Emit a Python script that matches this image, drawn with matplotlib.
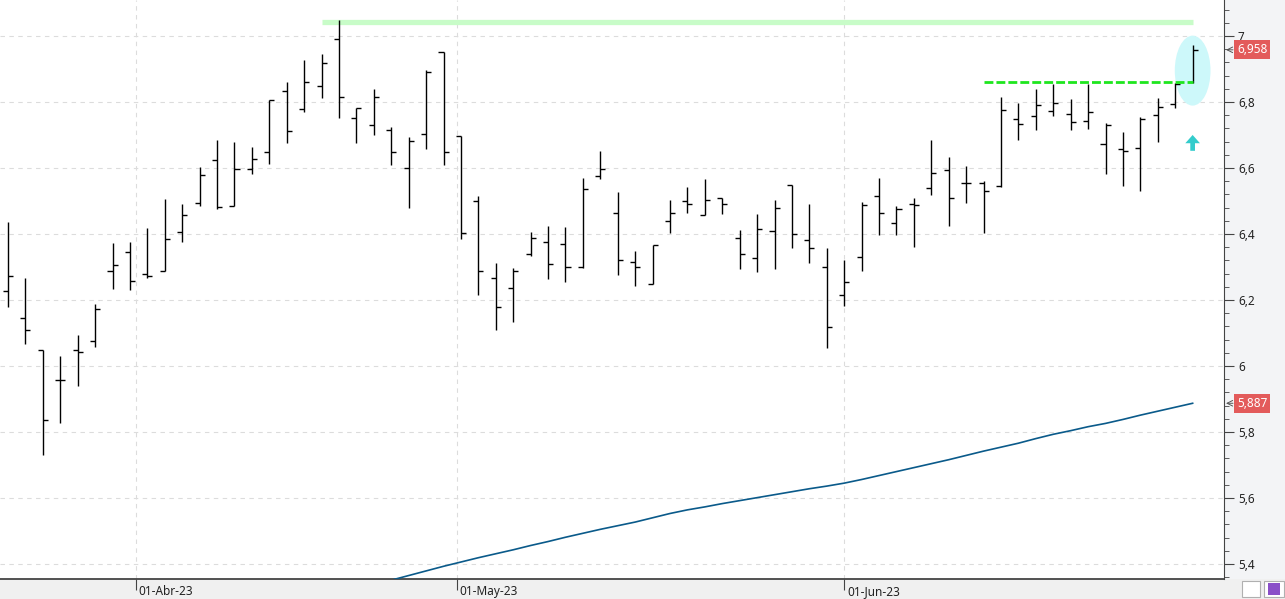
import matplotlib
matplotlib.use("Agg")
import matplotlib.pyplot as plt
import matplotlib.transforms as mtransforms
from matplotlib.patches import Ellipse, Rectangle
from matplotlib.ticker import MultipleLocator, FuncFormatter
import numpy as np
import pandas as pd

HOLIDAYS = ["2023-04-07", "2023-04-10", "2023-05-01"]
DATES = pd.bdate_range("2023-03-22", "2023-06-29")
DATES = DATES[~DATES.isin(pd.to_datetime(HOLIDAYS))]

OPEN = [6.227, 6.145, 6.048, 5.956, 6.048, 6.075, 6.288, 6.345, 6.278, 6.288,
        6.406, 6.493, 6.623, 6.484, 6.596, 6.648, 6.833, 6.778, 6.848, 6.990,
        6.751, 6.729, 6.714, 6.599, 6.702, 6.951, 6.696, 6.499, 6.266, 6.235,
        6.338, 6.375, 6.369, 6.299, 6.575, 6.463, 6.314, 6.248, 6.438, 6.499,
        6.457, 6.508, 6.387, 6.326, 6.408, 6.548, 6.381, 6.299, 6.214, 6.329,
        6.514, 6.432, 6.490, 6.538, 6.593, 6.554, 6.554, 6.545, 6.748, 6.757,
        6.772, 6.763, 6.742, 6.672, 6.657, 6.660, 6.760, 6.793, 6.860]
HIGH = [6.436, 6.267, 6.048, 6.030, 6.094, 6.187, 6.373, 6.376, 6.418, 6.505,
        6.491, 6.604, 6.684, 6.678, 6.664, 6.806, 6.861, 6.927, 6.945, 7.048,
        6.781, 6.838, 6.723, 6.694, 6.896, 6.951, 6.696, 6.514, 6.311, 6.296,
        6.405, 6.423, 6.420, 6.569, 6.651, 6.526, 6.348, 6.366, 6.503, 6.541,
        6.566, 6.508, 6.411, 6.460, 6.502, 6.548, 6.490, 6.357, 6.320, 6.496,
        6.569, 6.484, 6.508, 6.684, 6.632, 6.605, 6.560, 6.814, 6.796, 6.838,
        6.854, 6.808, 6.854, 6.735, 6.708, 6.754, 6.811, 6.857, 6.972]
LOW = [6.180, 6.068, 5.730, 5.828, 5.940, 6.056, 6.234, 6.231, 6.268, 6.288,
       6.375, 6.486, 6.475, 6.484, 6.583, 6.613, 6.677, 6.771, 6.813, 6.752,
       6.677, 6.701, 6.610, 6.480, 6.656, 6.610, 6.384, 6.214, 6.110, 6.132,
       6.332, 6.263, 6.254, 6.296, 6.566, 6.275, 6.242, 6.248, 6.404, 6.463,
       6.457, 6.460, 6.293, 6.284, 6.293, 6.357, 6.311, 6.054, 6.181, 6.287,
       6.396, 6.396, 6.362, 6.519, 6.423, 6.495, 6.404, 6.541, 6.684, 6.714,
       6.757, 6.714, 6.717, 6.583, 6.546, 6.531, 6.680, 6.781, 6.857]
CLOSE = [6.272, 6.108, 5.836, 5.956, 6.041, 6.173, 6.305, 6.258, 6.274, 6.384,
         6.458, 6.578, 6.481, 6.596, 6.626, 6.806, 6.711, 6.860, 6.917, 6.814,
         6.781, 6.814, 6.648, 6.681, 6.891, 6.648, 6.402, 6.287, 6.178, 6.287,
         6.387, 6.308, 6.299, 6.535, 6.596, 6.320, 6.299, 6.366, 6.463, 6.490,
         6.502, 6.490, 6.338, 6.414, 6.478, 6.399, 6.357, 6.117, 6.254, 6.487,
         6.463, 6.475, 6.487, 6.584, 6.508, 6.554, 6.529, 6.775, 6.732, 6.790,
         6.796, 6.738, 6.769, 6.729, 6.651, 6.748, 6.784, 6.854, 6.958]

# gleitender Durchschnitt, sichtbar ab Index 22
MA_START = 22
MA = [5.351, 5.365, 5.379, 5.393, 5.406, 5.419, 5.431, 5.443, 5.456, 5.468,
      5.481, 5.493, 5.505, 5.516, 5.527, 5.540, 5.553, 5.564, 5.573, 5.583,
      5.592, 5.601, 5.610, 5.619, 5.628, 5.636, 5.645, 5.656, 5.668, 5.680,
      5.692, 5.704, 5.716, 5.729, 5.742, 5.754, 5.766, 5.780, 5.793, 5.804,
      5.816, 5.826, 5.838, 5.851, 5.863, 5.875, 5.887]

MONTH_STARTS = ["2023-04-01", "2023-05-01", "2023-06-01"]
MONTH_LABELS = ["01-Abr-23", "01-May-23", "01-Jun-23"]

RESIST_TOP, RESIST_TOP_START = 7.042, 18
BREAKOUT, BREAKOUT_START = 6.860, 56
HIGHLIGHT_CENTER, HIGHLIGHT_W, HIGHLIGHT_H = 6.895, 2.05, 0.212
ARROW_BASE, ARROW_LEN = 6.652, 0.048

# --- Stil ---
INK = "#222222"
AXIS = "#444444"
GRID = "#dcdcdc"
MA_COLOR = "#0a5a8a"
LABEL_RED = "#e35b5b"
plt.rcParams["font.family"] = ["Noto Sans", "DejaVu Sans"]

idx = np.arange(len(DATES))
ordinals = DATES.map(pd.Timestamp.toordinal).to_numpy(float)
tick_pos = np.interp([pd.Timestamp(d).toordinal() for d in MONTH_STARTS], ordinals, idx)
last = idx[-1]

fig = plt.figure(figsize=(12.85, 5.99), dpi=100, facecolor="#f0f0f0")
ax = fig.add_axes([0, 20 / 599, 1224 / 1285, 579 / 599])
fig.add_artist(Rectangle((1224 / 1285, 20 / 599), 61 / 1285, 579 / 599,
                         transform=fig.transFigure, fc="#f3f4f6", ec="none", zorder=-5))
ax.set_facecolor("white")

# OHLC-Balken
w = 0.29
ax.vlines(idx, LOW, HIGH, color="black", lw=1.0, zorder=3)
ax.hlines(OPEN, idx - w, idx, color="black", lw=1.0, zorder=3)
ax.hlines(CLOSE, idx, idx + w, color="black", lw=1.0, zorder=3)

# gleitender Durchschnitt
ax.plot(idx[MA_START:], MA, color=MA_COLOR, lw=1.2, zorder=3)

# Markierungen
ax.plot([RESIST_TOP_START, last], [RESIST_TOP] * 2, color="#c8fcc8", lw=3.8,
        solid_capstyle="butt", zorder=2)
ax.plot([BREAKOUT_START, last], [BREAKOUT] * 2, color="#1ee61e", lw=2,
        dashes=(3.2, 1.1), zorder=4)
ax.add_patch(Ellipse((last, HIGHLIGHT_CENTER), HIGHLIGHT_W, HIGHLIGHT_H,
                     fc="#cdf8fa", ec="none", zorder=1))
ax.arrow(last, ARROW_BASE, 0, ARROW_LEN, width=0.27, head_width=0.84,
         head_length=0.025, length_includes_head=True, color="#33cccc",
         lw=0, zorder=3)

# Achsen
ax.set_xlim(-0.459, 69.8)
ax.set_ylim(5.3545, 7.109)
for s in ("left", "top"):
    ax.spines[s].set_visible(False)
ax.spines["right"].set_color(AXIS)
ax.spines["bottom"].set_color(AXIS)
ax.spines["bottom"].set_linewidth(1.3)

ax.yaxis.tick_right()
ax.yaxis.set_major_locator(MultipleLocator(0.2))
ax.yaxis.set_minor_locator(MultipleLocator(0.04))
ax.yaxis.set_major_formatter(FuncFormatter(lambda v, _: f"{v:g}".replace(".", ",")))
ax.tick_params(axis="y", which="major", length=7, color=AXIS, labelsize=8.5,
               labelcolor=INK, pad=3)
ax.tick_params(axis="y", which="minor", length=3.5, color=AXIS)

ax.set_xticks(tick_pos, MONTH_LABELS)
ax.tick_params(axis="x", length=8, color=AXIS, labelsize=8.5, labelcolor=INK, pad=-4)
shift = mtransforms.ScaledTranslation(2 / 72, 0, fig.dpi_scale_trans)
for lab in ax.get_xticklabels():
    lab.set_horizontalalignment("left")
    lab.set_transform(lab.get_transform() + shift)

ax.grid(True, which="major", color=GRID, ls=(0, (4, 4)), lw=0.8)
ax.set_axisbelow(True)

# Preis-Labels rechts
trans = mtransforms.blended_transform_factory(ax.transAxes, ax.transData)
for val in (CLOSE[-1], MA[-1]):
    ax.text(1 + 13 / 1224, val, f"{val:.3f}".replace(".", ","), transform=trans,
            ha="left", va="center", color="white", fontsize=8.5, clip_on=False,
            bbox=dict(boxstyle="square,pad=0.25", fc=LABEL_RED, ec="none"))
    ax.annotate("", xy=(1 + 2 / 1224, val), xycoords=trans, xytext=(7, 0),
                textcoords="offset pixels", annotation_clip=False,
                arrowprops=dict(arrowstyle="->", color="#555555", lw=0.7,
                                shrinkA=0, shrinkB=0))

# kleine Icons unten rechts
fig.add_artist(Rectangle((1242 / 1285, 2 / 599), 18 / 1285, 16 / 599,
                         transform=fig.transFigure, fc="white", ec="#b0b0b0", lw=0.8))
fig.add_artist(Rectangle((1264 / 1285, 2 / 599), 20 / 1285, 16 / 599,
                         transform=fig.transFigure, fc="white", ec="#b0b0b0", lw=0.8))
fig.add_artist(Rectangle((1268 / 1285, 4 / 599), 12 / 1285, 12 / 599,
                         transform=fig.transFigure, fc="#8a4fc8", ec="none"))

fig.savefig("out.png", dpi=100, facecolor=fig.get_facecolor())
